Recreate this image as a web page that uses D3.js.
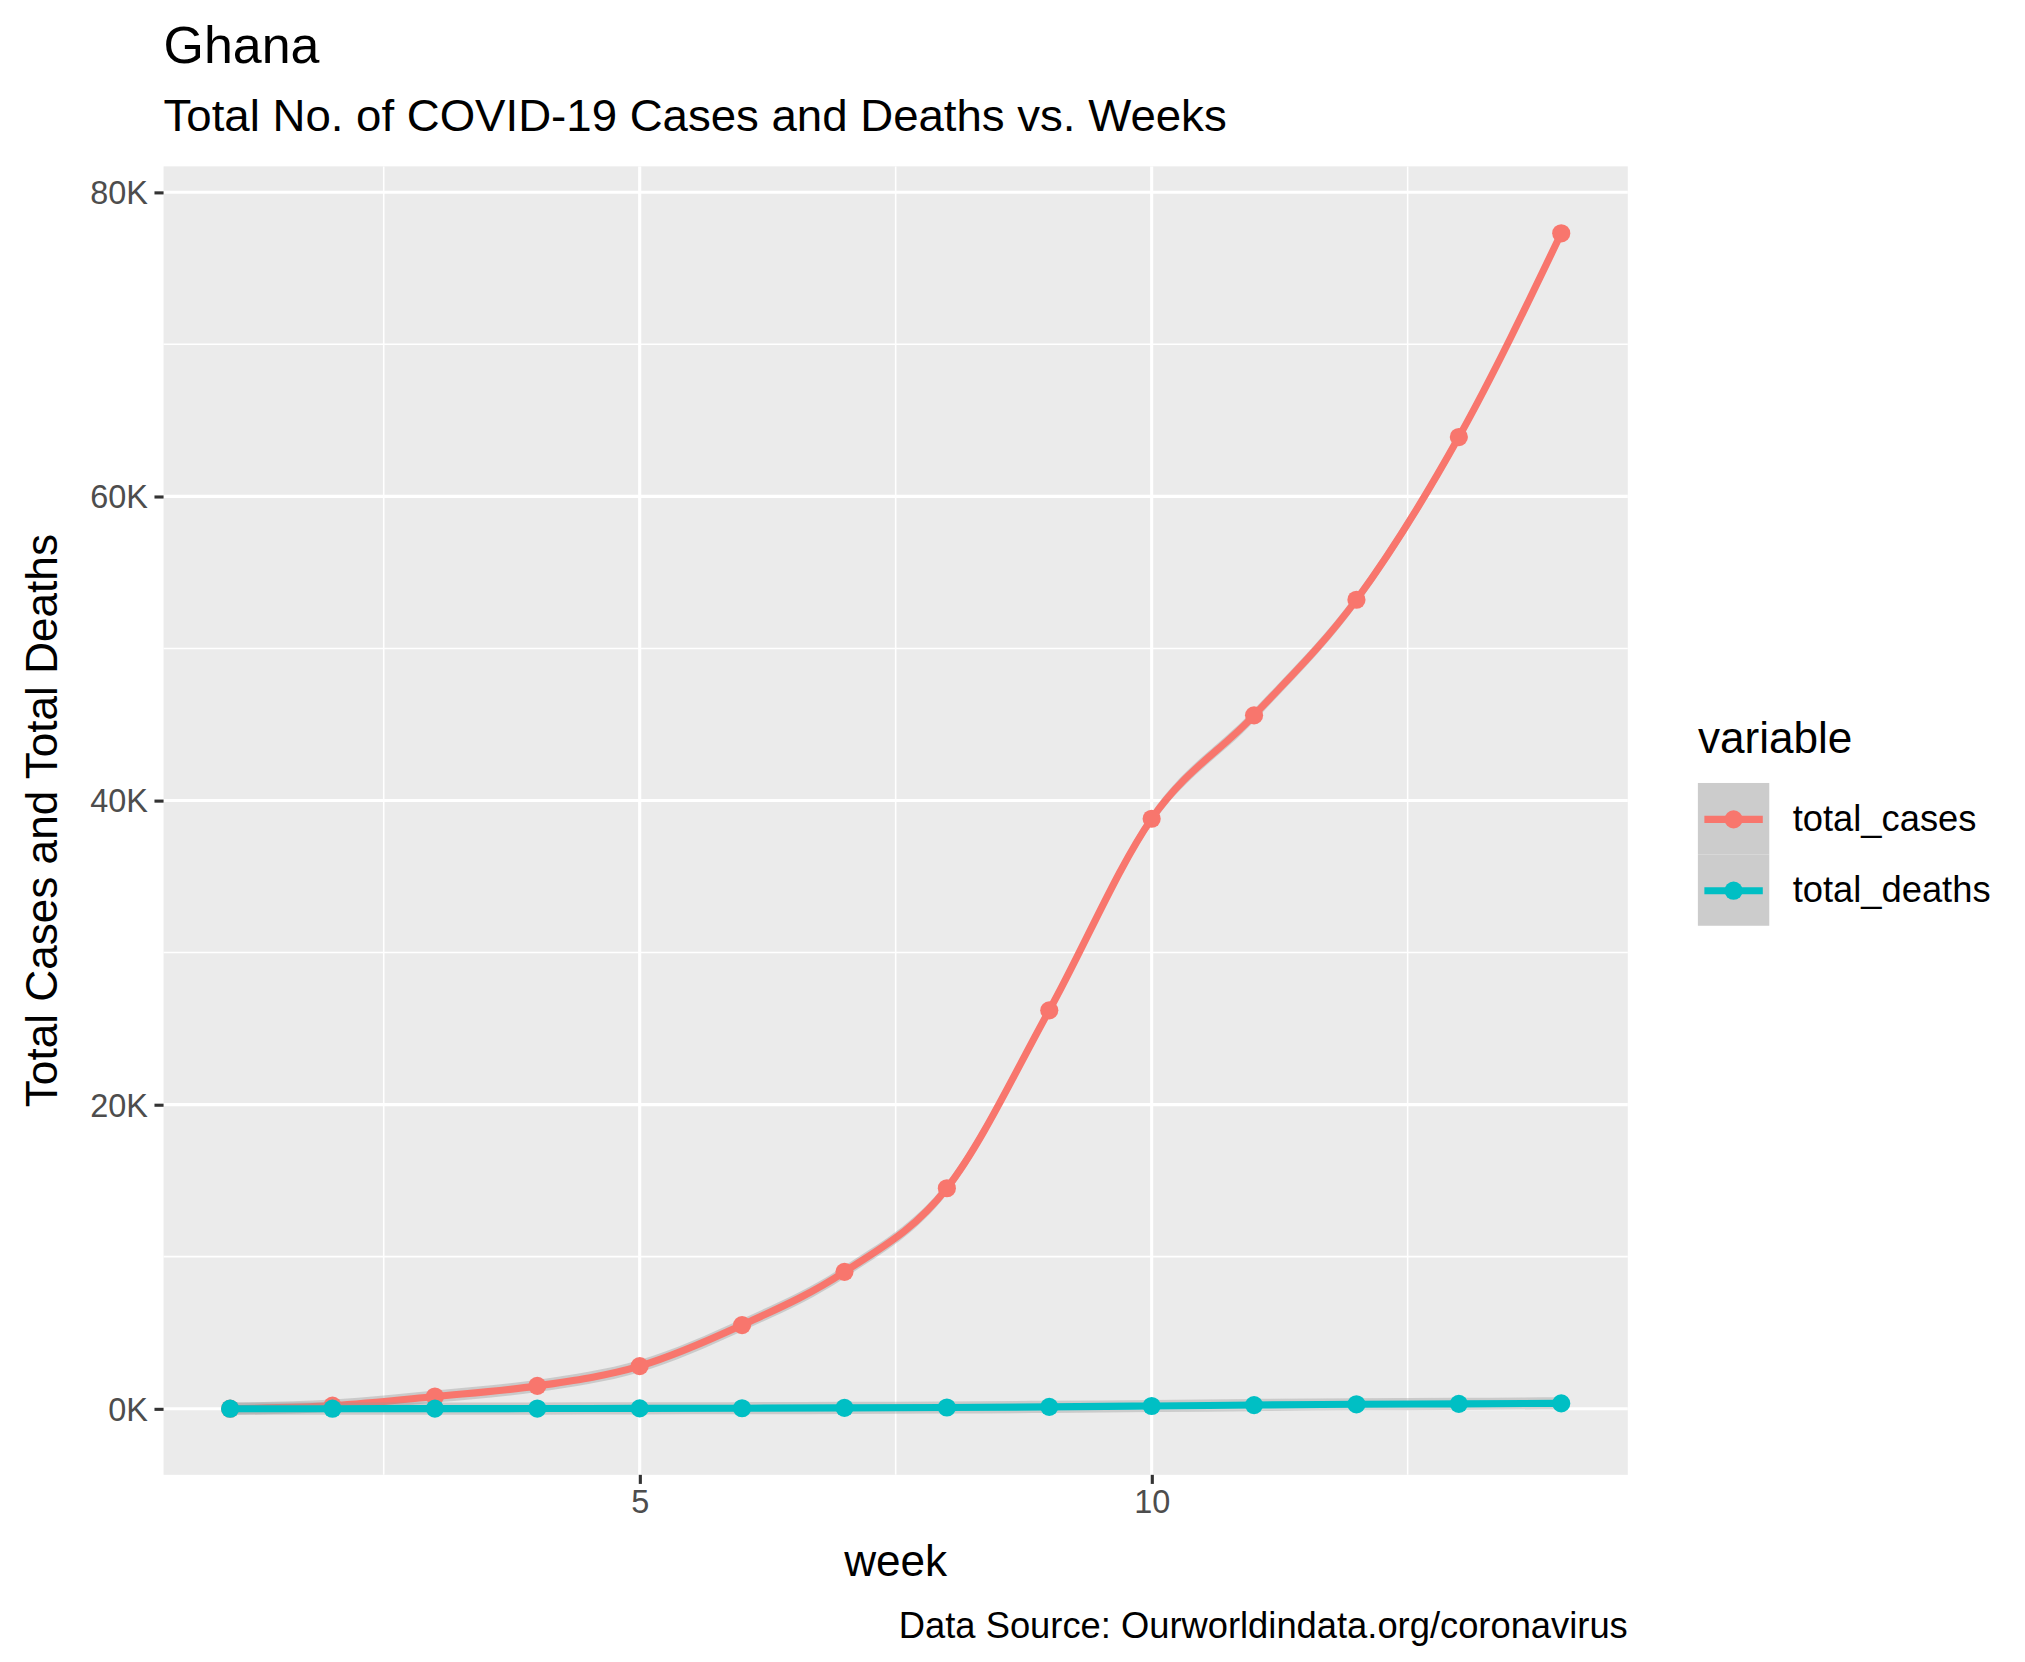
<!DOCTYPE html><html><head><meta charset="utf-8">
<script src="https://cdn.jsdelivr.net/npm/d3@7"></script>
<style>body{margin:0;background:#fff}text{font-family:"Liberation Sans",Arial,sans-serif}</style></head><body>
<svg id="c" width="2025" height="1662" viewBox="0 0 1560 1280"></svg>
<script>
const weeks=[1,2,3,4,5,6,7,8,9,10,11,12,13,14];
const totalCases=[0.0,0.2,0.8,1.5,2.8,5.5,9.0,14.5,26.2,38.8,45.6,53.2,63.9,77.3];
const totalDeaths=[0,0,0.005,0.01,0.02,0.03,0.05,0.08,0.12,0.18,0.24,0.29,0.32,0.35];
const xTicks=[5,10], xMinor=[2.5,7.5,12.5];
const yTicks=[0,20,40,60,80], yMinor=[10,30,50,70];
const seriesNames=["total_cases","total_deaths"];
const colors=["#F8766D","#00BFC4"];

const svg=d3.select("#c");
const L=126,R=1254,T=128,B=1136;
const x=d3.scaleLinear().domain([0.35,14.65]).range([L,R]);
const y=d3.scaleLinear().domain([-4.35,81.7]).range([B,T]);
svg.append("rect").attr("x",L).attr("y",T).attr("width",R-L).attr("height",B-T).attr("fill","#EBEBEB");
const g=svg.append("g");
xMinor.forEach(v=>g.append("line").attr("x1",x(v)).attr("x2",x(v)).attr("y1",T).attr("y2",B).attr("stroke","#fff").attr("stroke-width",1.2));
yMinor.forEach(v=>g.append("line").attr("y1",y(v)).attr("y2",y(v)).attr("x1",L).attr("x2",R).attr("stroke","#fff").attr("stroke-width",1.2));
xTicks.forEach(v=>g.append("line").attr("x1",x(v)).attr("x2",x(v)).attr("y1",T).attr("y2",B).attr("stroke","#fff").attr("stroke-width",2.4));
yTicks.forEach(v=>g.append("line").attr("y1",y(v)).attr("y2",y(v)).attr("x1",L).attr("x2",R).attr("stroke","#fff").attr("stroke-width",2.4));
const xa=svg.append("g").attr("transform",`translate(0,${B})`).call(d3.axisBottom(x).tickValues(xTicks).tickSize(7).tickPadding(5));
const ya=svg.append("g").attr("transform",`translate(${L},0)`).call(d3.axisLeft(y).tickValues(yTicks).tickFormat(d=>d+"K").tickSize(7).tickPadding(5));
[xa,ya].forEach(a=>{a.select(".domain").remove();a.selectAll("line").attr("stroke","#333").attr("stroke-width",2.4);a.selectAll("text").attr("fill","#4D4D4D").style("font-size","25px");});
ya.selectAll("text").attr("dy","0.35em");
const data=[totalCases,totalDeaths];
const line=d3.line().x((d,i)=>x(weeks[i])).y(d=>y(d)).curve(d3.curveMonotoneX);
const area=d3.area().x((d,i)=>x(weeks[i])).y0(d=>y(d-0.4)).y1(d=>y(d+0.4)).curve(d3.curveMonotoneX);
data.forEach((s,k)=>{
 g.append("path").attr("d",area(s)).attr("fill","#999").attr("opacity",0.4);
 g.append("path").attr("d",line(s)).attr("fill","none").attr("stroke",colors[k]).attr("stroke-width",5.5);
 g.selectAll(null).data(s).enter().append("circle").attr("cx",(d,i)=>x(weeks[i])).attr("cy",d=>y(d)).attr("r",7).attr("fill",colors[k]);
});
svg.append("text").attr("x",126).attr("y",48).style("font-size",40).text("Ghana");
svg.append("text").attr("x",126).attr("y",101).attr("textLength",819).attr("lengthAdjust","spacingAndGlyphs").style("font-size",34).text("Total No. of COVID-19 Cases and Deaths vs. Weeks");
svg.append("text").attr("x",(L+R)/2).attr("y",1214).attr("text-anchor","middle").style("font-size",34).text("week");
svg.append("text").attr("transform",`translate(44,${(T+B)/2}) rotate(-90)`).attr("text-anchor","middle").style("font-size",34).text("Total Cases and Total Deaths");
svg.append("text").attr("x",R).attr("y",1262).attr("text-anchor","end").style("font-size",28).text("Data Source: Ourworldindata.org/coronavirus");
svg.append("text").attr("x",1308).attr("y",580).style("font-size",34).text("variable");
seriesNames.forEach((n,k)=>{
 const cy=631+k*55;
 svg.append("rect").attr("x",1308).attr("y",cy-28).attr("width",55).attr("height",55).attr("fill","#CCCCCC");
 svg.append("line").attr("x1",1313).attr("x2",1358).attr("y1",cy).attr("y2",cy).attr("stroke",colors[k]).attr("stroke-width",5.5);
 svg.append("circle").attr("cx",1335.5).attr("cy",cy).attr("r",7).attr("fill",colors[k]);
 svg.append("text").attr("x",1381).attr("y",cy+9).style("font-size",28).text(n);
});
</script></body></html>
